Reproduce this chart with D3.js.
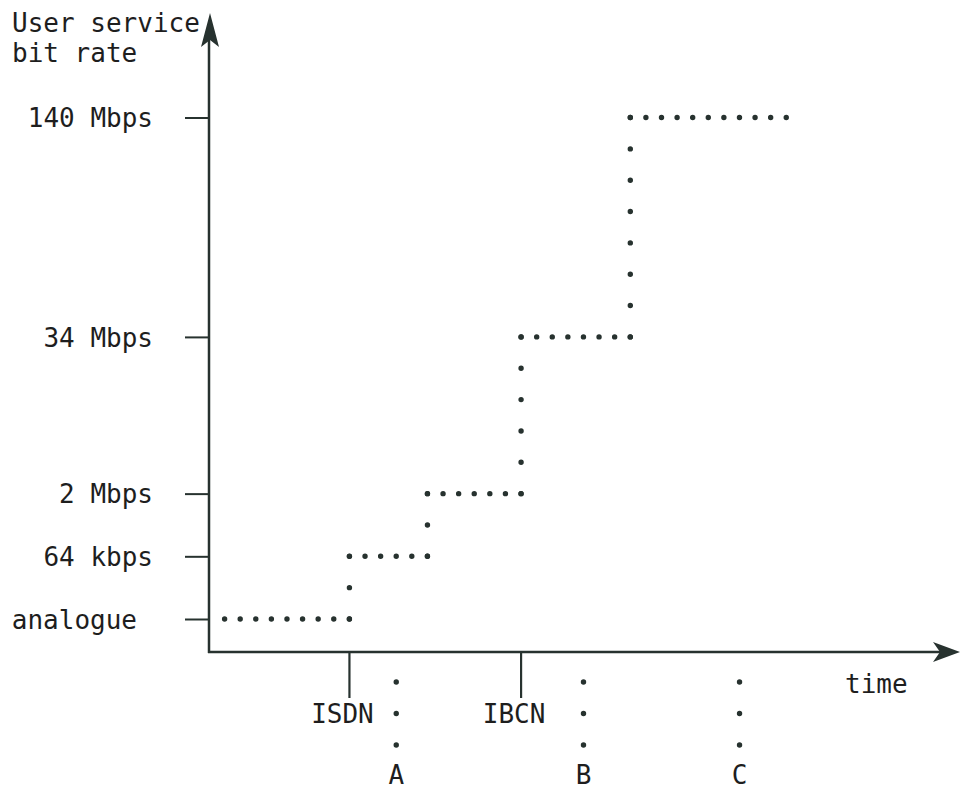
<!DOCTYPE html>
<html>
<head>
<meta charset="utf-8">
<script src="https://cdn.jsdelivr.net/npm/d3@7"></script>
<style>
  body { margin: 0; background: #fff; }
  text { font-family: "DejaVu Sans Mono", monospace; fill: #1e1e1e; }
</style>
</head>
<body>
<svg width="960" height="791"></svg>
<script>
// level positions on the (schematic) bit-rate axis
var levels = [0, 1, 2, 4.5, 8];
var levelLabels = ["analogue", "64 kbps", "2 Mbps", "34 Mbps", "140 Mbps"];

// step line: [time, level]
var stepTimes = [1, 9, 9, 14, 14, 20, 20, 27, 27, 37];
var stepLevels = [0, 0, 1, 1, 2, 2, 4.5, 4.5, 8, 8];

// solid ticks on the time axis
var eventNames = ["ISDN", "IBCN"];
var eventTimes = [9, 20];

// dotted markers below the time axis
var markerNames = ["A", "B", "C"];
var markerTimes = [12, 24, 34];

var svg = d3.select("svg"),
  width = +svg.attr("width"),
  height = +svg.attr("height");

var ink = "#27322f";
var originX = 209, originY = 652;

var x = d3.scaleLinear().domain([0, 48]).range([originX, 958]);
var y = d3.scaleLinear().domain([0, 8]).range([619, 117.5]);

// axes lines
svg.append("line")
  .attr("x1", originX).attr("y1", originY + 1)
  .attr("x2", originX).attr("y2", 30)
  .attr("stroke", ink).attr("stroke-width", 2.5);

svg.append("line")
  .attr("x1", originX - 1).attr("y1", originY)
  .attr("x2", 940).attr("y2", originY)
  .attr("stroke", ink).attr("stroke-width", 2.5);

// arrow heads
svg.append("path")
  .attr("d", "M" + (originX + 1) + ",13 L" + (originX + 10) + ",47 L" + (originX + 1) + ",40 L" + (originX - 8) + ",47 Z")
  .attr("fill", ink);

svg.append("path")
  .attr("d", "M960," + originY + " L933," + (originY - 10) + " L940," + originY + " L933," + (originY + 10) + " Z")
  .attr("fill", ink);

// y axis ticks and labels
var yAxis = svg.append("g")
  .attr("transform", "translate(" + originX + ",0)")
  .call(
    d3.axisLeft(y)
      .tickValues(levels)
      .tickSize(24)
      .tickPadding(32)
      .tickFormat(function (d, i) { return levelLabels[i]; })
  );
yAxis.select(".domain").remove();
yAxis.selectAll(".tick line").attr("stroke", ink).attr("stroke-width", 2);
yAxis.selectAll(".tick text")
  .attr("font-size", 26)
  .attr("fill", "#1e1e1e")
  .attr("dy", "0.35em")
  .attr("font-family", "DejaVu Sans Mono, monospace");
yAxis.selectAll(".tick text")
  .filter(function (d) { return d === 0; })
  .attr("x", -72);

// axis titles
svg.append("text")
  .attr("x", 12).attr("y", 32)
  .attr("font-size", 26)
  .text("User service");
svg.append("text")
  .attr("x", 12).attr("y", 62)
  .attr("font-size", 26)
  .text("bit rate");
svg.append("text")
  .attr("x", 845).attr("y", 693)
  .attr("font-size", 26)
  .text("time");

// dotted step line, one segment at a time
var pts = stepTimes.map(function (t, i) { return [x(t), y(stepLevels[i])]; });
var segs = d3.pairs(pts);

svg.append("g")
  .selectAll("path")
  .data(segs)
  .enter()
  .append("path")
  .attr("d", function (d) { return d3.line()(d); })
  .attr("fill", "none")
  .attr("stroke", ink)
  .attr("stroke-width", 5.4)
  .attr("stroke-linecap", "round")
  .attr("stroke-dasharray", function (d) {
    var len = Math.hypot(d[1][0] - d[0][0], d[1][1] - d[0][1]);
    var step = d[0][1] === d[1][1] ? 15.6 : 31.3;
    var n = Math.max(1, Math.round(len / step));
    return "0 " + (len / n - 0.01);
  });

// event ticks below the time axis
var ev = svg.append("g")
  .selectAll("g")
  .data(eventNames)
  .enter()
  .append("g")
  .attr("transform", function (d, i) { return "translate(" + x(eventTimes[i]) + "," + originY + ")"; });
ev.append("line")
  .attr("y2", 46)
  .attr("stroke", ink)
  .attr("stroke-width", 2.2);
ev.append("text")
  .attr("x", -7).attr("y", 71)
  .attr("text-anchor", "middle")
  .attr("font-size", 26)
  .text(function (d) { return d; });

// dotted markers
var mk = svg.append("g")
  .selectAll("g")
  .data(markerNames)
  .enter()
  .append("g")
  .attr("transform", function (d, i) { return "translate(" + x(markerTimes[i]) + "," + originY + ")"; });
mk.append("path")
  .attr("d", "M0,30 L0,93")
  .attr("stroke", ink)
  .attr("stroke-width", 5.4)
  .attr("stroke-linecap", "round")
  .attr("stroke-dasharray", "0 31.49");
mk.append("text")
  .attr("y", 132)
  .attr("text-anchor", "middle")
  .attr("font-size", 26)
  .text(function (d) { return d; });
</script>
</body>
</html>
